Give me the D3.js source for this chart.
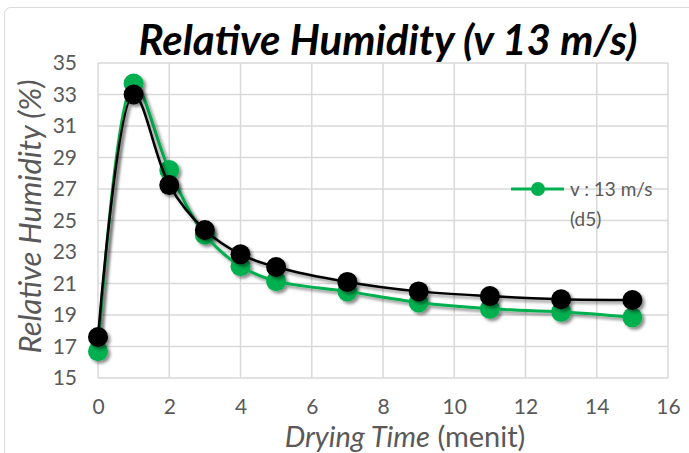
<!DOCTYPE html>
<html>
<head>
<meta charset="utf-8">
<script src="https://cdn.jsdelivr.net/npm/d3@7"></script>
<style>
  body { margin: 0; background: #fff; }
  text { font-family: Lato, "Open Sans", sans-serif; fill: #595959; }
</style>
</head>
<body>
<script>
// data
var dryingTime = [0, 1, 2, 3, 4, 5, 7, 9, 11, 13, 15];
var humidityD5 = [16.7, 33.7, 28.2, 24.1, 22.1, 21.15, 20.5, 19.8, 19.4, 19.2, 18.85];
var humidityBlack = [17.6, 33.0, 27.25, 24.4, 22.85, 22.05, 21.1, 20.5, 20.2, 20.0, 19.95];
var xTicks = [0, 2, 4, 6, 8, 10, 12, 14, 16];
var yTicks = [15, 17, 19, 21, 23, 25, 27, 29, 31, 33, 35];
var legendLabel = ["v : 13 m/s", "(d5)"];

var W = 689, H = 453;
var margin = {top: 63, right: 21, bottom: 75, left: 98},
    width = W - margin.left - margin.right,
    height = H - margin.top - margin.bottom;

var svg = d3.select("body").append("svg")
    .attr("width", W)
    .attr("height", H);

// drop shadow like excel
var defs = svg.append("defs");
var f = defs.append("filter").attr("id", "shadow")
    .attr("x", "-50%").attr("y", "-50%").attr("width", "200%").attr("height", "200%");
f.append("feDropShadow")
    .attr("dx", 2.5).attr("dy", 2.5).attr("stdDeviation", 1.8)
    .attr("flood-color", "#000").attr("flood-opacity", 0.45);

// outer chart border
svg.append("rect")
    .attr("x", 4.5).attr("y", 7.5)
    .attr("width", 720).attr("height", 480)
    .attr("rx", 6)
    .attr("fill", "none")
    .attr("stroke", "#d9d9d9");

var g = svg.append("g")
    .attr("transform", "translate(" + margin.left + "," + margin.top + ")");

var x = d3.scaleLinear().domain([0, 16]).range([0, width]);
var y = d3.scaleLinear().domain([15, 35]).range([height, 0]);

// gridlines
g.append("g").selectAll("line.v")
    .data(xTicks).enter().append("line")
    .attr("x1", function(d) { return x(d); })
    .attr("x2", function(d) { return x(d); })
    .attr("y1", 0).attr("y2", height)
    .attr("stroke", "#d9d9d9").attr("stroke-width", 1.5);
g.append("g").selectAll("line.h")
    .data(yTicks).enter().append("line")
    .attr("x1", 0).attr("x2", width)
    .attr("y1", function(d) { return y(d); })
    .attr("y2", function(d) { return y(d); })
    .attr("stroke", "#d9d9d9").attr("stroke-width", 1.5);

// axes (labels only)
var xAxis = g.append("g")
    .attr("transform", "translate(0," + height + ")")
    .call(d3.axisBottom(x).tickValues(xTicks).tickSize(0).tickPadding(21));
var yAxis = g.append("g")
    .call(d3.axisLeft(y).tickValues(yTicks).tickSize(0).tickPadding(21));
[xAxis, yAxis].forEach(function(a) {
    a.select(".domain").remove();
    a.selectAll("text")
        .style("font-size", "21px")
        .style("font-family", "Lato, sans-serif")
        .attr("fill", "#595959");
});

var line = d3.line()
    .x(function(d, i) { return x(dryingTime[i]); })
    .y(function(d) { return y(d); })
    .curve(d3.curveCatmullRom.alpha(0.5));

function drawSeries(values, color, lw) {
    var s = g.append("g").attr("filter", "url(#shadow)");
    s.append("path")
        .datum(values)
        .attr("d", line)
        .attr("fill", "none")
        .attr("stroke", color)
        .attr("stroke-width", lw);
    s.selectAll("circle")
        .data(values).enter().append("circle")
        .attr("cx", function(d, i) { return x(dryingTime[i]); })
        .attr("cy", function(d) { return y(d); })
        .attr("r", 10)
        .attr("fill", color);
}
drawSeries(humidityD5, "#00b050", 3);
drawSeries(humidityBlack, "#000000", 2.5);

// legend
var lg = svg.append("g").attr("transform", "translate(511,189)");
lg.append("line")
    .attr("x1", 0).attr("x2", 53).attr("y1", 0).attr("y2", 0)
    .attr("stroke", "#00b050").attr("stroke-width", 3);
lg.append("circle").attr("cx", 27).attr("cy", 0).attr("r", 7).attr("fill", "#00b050");
lg.selectAll("text.l")
    .data(legendLabel).enter().append("text")
    .attr("x", 59)
    .attr("y", function(d, i) { return 7 + i * 30; })
    .style("font-size", "19px")
    .text(function(d) { return d; });

// title
svg.append("text")
    .attr("x", 388).attr("y", 55)
    .attr("text-anchor", "middle")
    .style("font-size", "42px")
    .style("font-weight", "bold")
    .style("font-style", "italic")
    .style("fill", "#000")
    .text("Relative Humidity (v 13 m/s)");

// y axis label
svg.append("text")
    .attr("transform", "translate(41," + (margin.top + height / 2 - 4) + ") rotate(-90)")
    .attr("text-anchor", "middle")
    .style("font-size", "31px")
    .style("font-style", "italic")
    .text("Relative Humidity (%)");

// x axis label
var xl = svg.append("text")
    .attr("x", 405).attr("y", 447)
    .attr("text-anchor", "middle")
    .style("font-size", "29px");
xl.append("tspan").style("font-style", "italic").text("Drying Time");
xl.append("tspan").text(" (menit)");
</script>
</body>
</html>
